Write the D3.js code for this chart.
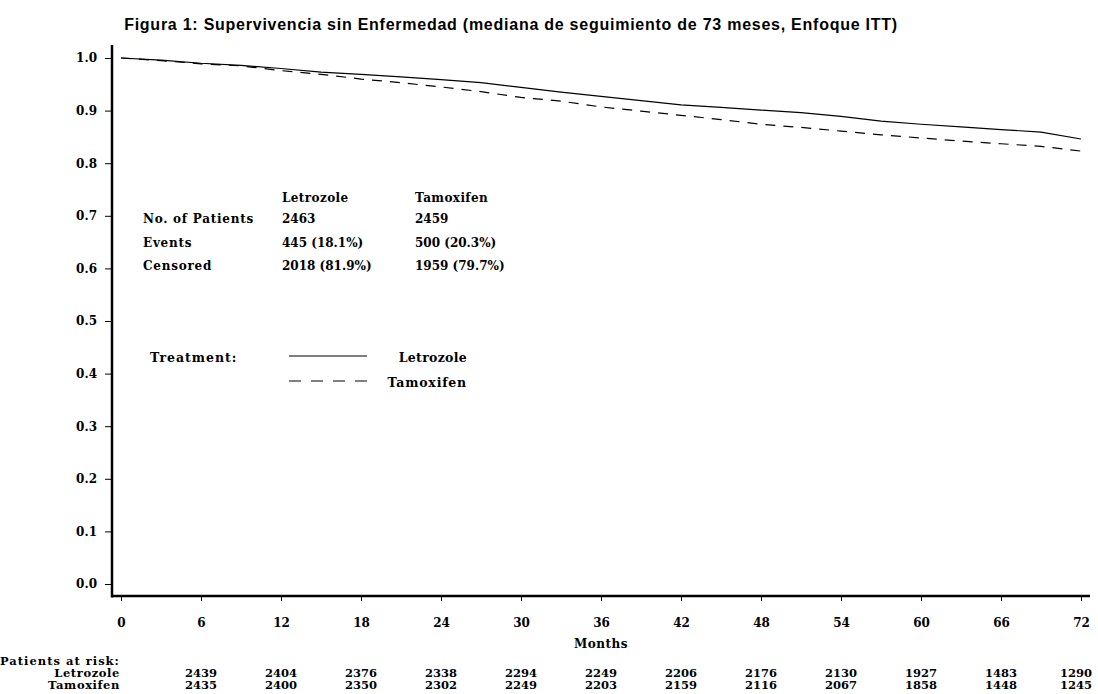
<!DOCTYPE html>
<html>
<head>
<meta charset="utf-8">
<script src="https://cdn.jsdelivr.net/npm/d3@7"></script>
<style>
  body { margin: 0; background: #fff; }
  text { font-family: "DejaVu Serif", serif; font-weight: bold; fill: #000; }
</style>
</head>
<body>
<svg id="chart"></svg>
<script>
(() => {

  // survival, every 3 months
  const months    = [0, 3, 6, 9, 12, 15, 18, 21, 24, 27, 30, 33, 36, 39, 42, 45, 48, 51, 54, 57, 60, 63, 66, 69, 72];
  const letrozole = [1.000, 0.996, 0.990, 0.986, 0.980, 0.973, 0.969, 0.964, 0.959, 0.953, 0.944, 0.935, 0.927,
                     0.919, 0.911, 0.906, 0.901, 0.896, 0.889, 0.880, 0.874, 0.869, 0.864, 0.859, 0.846];
  const tamoxifen = [1.000, 0.995, 0.989, 0.985, 0.976, 0.969, 0.960, 0.953, 0.945, 0.936, 0.925, 0.918, 0.907,
                     0.899, 0.891, 0.883, 0.874, 0.868, 0.861, 0.854, 0.848, 0.842, 0.837, 0.832, 0.823];

  const xTicks = [0, 6, 12, 18, 24, 30, 36, 42, 48, 54, 60, 66, 72];
  const yTicks = [0, 0.1, 0.2, 0.3, 0.4, 0.5, 0.6, 0.7, 0.8, 0.9, 1.0];

  const riskMonths    = [6, 12, 18, 24, 30, 36, 42, 48, 54, 60, 66, 72];
  const riskLetrozole = [2439, 2404, 2376, 2338, 2294, 2249, 2206, 2176, 2130, 1927, 1483, 1290];
  const riskTamoxifen = [2435, 2400, 2350, 2302, 2249, 2203, 2159, 2116, 2067, 1858, 1448, 1245];

  const statsHead = ['Letrozole', 'Tamoxifen'];
  const statsRows = [
    ['No. of Patients', '2463', '2459'],
    ['Events', '445 (18.1%)', '500 (20.3%)'],
    ['Censored', '2018 (81.9%)', '1959 (79.7%)']
  ];

  const width  = 1098;
  const height = 694;

  const svg = d3.select('#chart')
    .attr('width', width)
    .attr('height', height);

  const x = d3.scaleLinear().domain([0, 72]).range([121, 1081]);
  const y = d3.scaleLinear().domain([0, 1]).range([584, 58]);

  const axisX = 112;
  const axisY = 596;

  // title
  svg.append('text')
    .attr('x', 511)
    .attr('y', 30)
    .attr('text-anchor', 'middle')
    .style('font-family', '"Liberation Sans", Arial, sans-serif')
    .style('font-size', '16px')
    .style('letter-spacing', '0.75px')
    .text('Figura 1: Supervivencia sin Enfermedad (mediana de seguimiento de 73 meses, Enfoque ITT)');

  // y axis
  const yAxis = d3.axisLeft(y)
    .tickValues(yTicks)
    .tickSize(7)
    .tickPadding(8)
    .tickFormat(d3.format('.1f'));

  const gy = svg.append('g')
    .attr('transform', `translate(${axisX},0)`)
    .call(yAxis);
  gy.select('.domain').remove();
  gy.selectAll('text').style('font-size', '12px').style('font-family', '"DejaVu Serif", serif');

  svg.append('line')
    .attr('x1', axisX).attr('x2', axisX)
    .attr('y1', 45).attr('y2', axisY + 1.5)
    .attr('stroke', '#000').attr('stroke-width', 2.5);

  // x axis
  const xAxis = d3.axisBottom(x)
    .tickValues(xTicks)
    .tickSize(5)
    .tickPadding(17);

  const gx = svg.append('g')
    .attr('transform', `translate(0,${axisY})`)
    .call(xAxis);
  gx.select('.domain').remove();
  gx.selectAll('text').style('font-size', '12px').style('font-family', '"DejaVu Serif", serif');

  svg.append('line')
    .attr('x1', axisX).attr('x2', 1090)
    .attr('y1', axisY).attr('y2', axisY)
    .attr('stroke', '#000').attr('stroke-width', 2.5);

  svg.append('text')
    .attr('x', x(36))
    .attr('y', 648)
    .attr('text-anchor', 'middle')
    .style('font-size', '12px')
    .style('letter-spacing', '0.5px')
    .text('Months');

  // curves
  const line = d3.line()
    .x((d) => x(d[0]))
    .y((d) => y(d[1]));

  svg.append('path')
    .datum(months.map((m, i) => [m, letrozole[i]]))
    .attr('d', line)
    .attr('fill', 'none')
    .attr('stroke', '#000')
    .attr('stroke-width', 1.2);

  svg.append('path')
    .datum(months.map((m, i) => [m, tamoxifen[i]]))
    .attr('d', line)
    .attr('fill', 'none')
    .attr('stroke', '#000')
    .attr('stroke-width', 1.2)
    .attr('stroke-dasharray', '10,8');

  // stats table
  const colX = [143, 282, 415];
  svg.selectAll('.head')
    .data(statsHead)
    .enter()
    .append('text')
    .attr('x', (d, i) => colX[i + 1])
    .attr('y', 202)
    .style('font-size', '12px')
    .style('letter-spacing', '0.4px')
    .text((d) => d);

  statsRows.forEach((row, r) => {
    svg.selectAll(null)
      .data(row)
      .enter()
      .append('text')
      .attr('x', (d, i) => colX[i])
      .attr('y', 223 + r * 23.5)
      .style('font-size', '12px')
      .style('letter-spacing', (d, i) => i === 0 ? '0.75px' : '0px')
      .text((d) => d);
  });

  // legend
  svg.append('text')
    .attr('x', 150).attr('y', 362)
    .style('font-size', '12.5px')
    .style('letter-spacing', '1px')
    .text('Treatment:');

  svg.append('line')
    .attr('x1', 289).attr('x2', 367)
    .attr('y1', 356).attr('y2', 356)
    .attr('stroke', '#000').attr('stroke-width', 1);
  svg.append('text')
    .attr('x', 467).attr('y', 362)
    .attr('text-anchor', 'end')
    .style('font-size', '12.5px')
    .style('letter-spacing', '0.3px')
    .text('Letrozole');

  svg.append('line')
    .attr('x1', 289).attr('x2', 367)
    .attr('y1', 381).attr('y2', 381)
    .attr('stroke', '#000').attr('stroke-width', 1)
    .attr('stroke-dasharray', '12,10');
  svg.append('text')
    .attr('x', 467).attr('y', 387)
    .attr('text-anchor', 'end')
    .style('font-size', '12.5px')
    .style('letter-spacing', '0.8px')
    .text('Tamoxifen');

  // patients at risk
  svg.append('text')
    .attr('x', 0).attr('y', 665)
    .style('font-size', '11.5px')
    .style('letter-spacing', '1px')
    .text('Patients at risk:');

  const riskRows = [['Letrozole', riskLetrozole], ['Tamoxifen', riskTamoxifen]];
  riskRows.forEach(([name, vals], r) => {
    const ry = 677 + r * 12;
    svg.append('text')
      .attr('x', 120).attr('y', ry)
      .attr('text-anchor', 'end')
      .style('font-size', '11.5px')
      .style('letter-spacing', '0.6px')
      .text(name);
    svg.selectAll(null)
      .data(vals)
      .enter()
      .append('text')
      .attr('x', (d, i) => Math.min(x(riskMonths[i]), 1076))
      .attr('y', ry)
      .attr('text-anchor', 'middle')
      .style('font-size', '11.5px')
      .text((d) => d);
  });

})();
</script>
</body>
</html>
